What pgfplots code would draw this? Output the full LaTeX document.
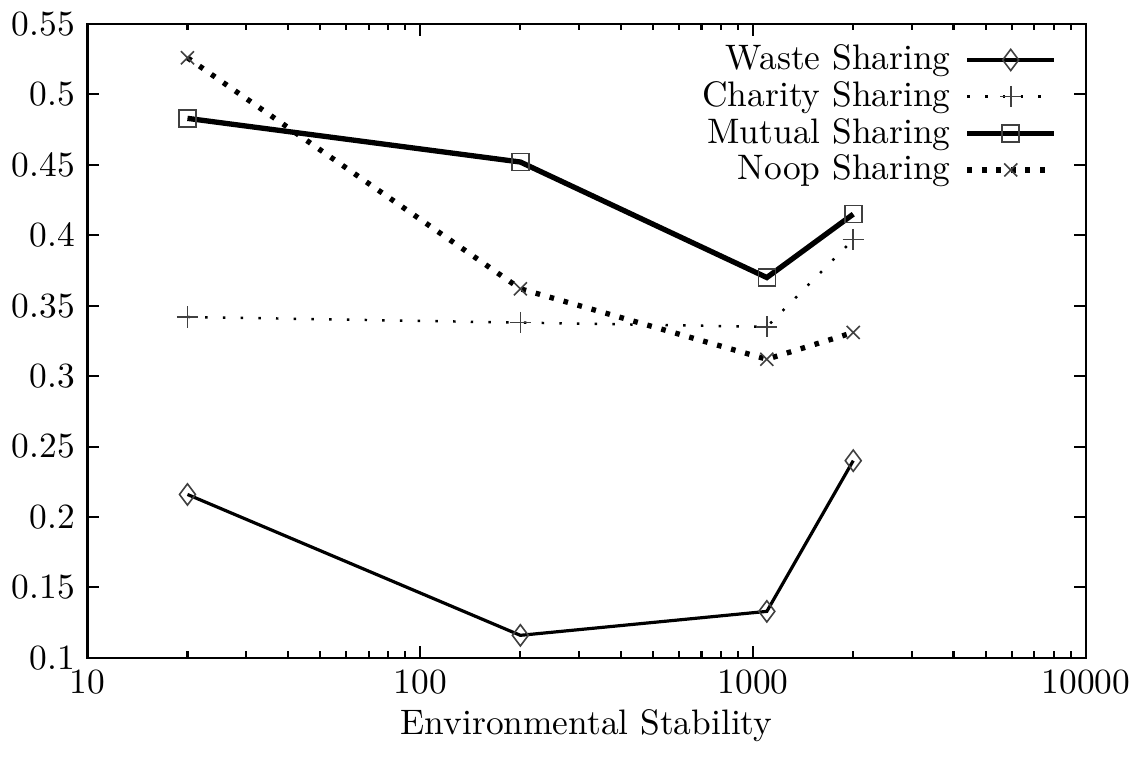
\documentclass[border=0pt]{standalone}
\usepackage{pgfplots}
\pgfplotsset{compat=1.18}
\begin{document}
\begin{tikzpicture}
\begin{axis}[
    scale only axis,
    width=282pt, height=179pt,
    xmode=log,
    xmin=10, xmax=10000,
    ymin=0.1, ymax=0.55,
    ytick={0.1,0.15,...,0.55},
    log ticks with fixed point,
    /pgf/number format/set thousands separator={},
    yticklabel style={/pgf/number format/fixed,/pgf/number format/precision=2},
    /pgf/number format/assume math mode=true,
    tick align=inside,
    major tick length=3.4pt,
    minor tick length=1.8pt,
    every tick/.style={black, line width=0.6pt},
    axis line style={line width=0.7pt},
    xlabel={Environmental Stability},
    xlabel style={yshift=7.4pt, inner ysep=8pt},
    legend plot pos=right,
    legend cell align=right,
    legend style={draw=none, fill=none, at={(0.975,0.985)}, anchor=north east,
                  row sep=-2.2pt, inner sep=1pt,
                  nodes={inner xsep=4pt}},
    legend image code/.code={\draw[mark repeat=2,mark phase=2]
        plot coordinates {(0cm,0cm) (0.43cm,0cm) (0.86cm,0cm)};},
]
\addplot[black, line width=0.9pt, mark=diamond, mark options={solid, draw=black!75, line width=0.45pt, mark size=3pt}]
coordinates {(20,0.216) (200,0.116) (1100,0.133) (2000,0.240)};
\addplot[black, line width=0.7pt, dash pattern=on 0.7pt off 4.3pt, mark=+, mark options={solid, draw=black!75, line width=0.45pt, mark size=3pt}]
coordinates {(20,0.342) (200,0.338) (1100,0.335) (2000,0.397)};
\addplot[black, line width=1.5pt, mark=square, mark options={solid, draw=black!75, line width=0.45pt, mark size=2.4pt}]
coordinates {(20,0.483) (200,0.452) (1100,0.370) (2000,0.415)};
\addplot[black, line width=1.5pt, dash pattern=on 1.3pt off 2.8pt, mark=x, mark options={solid, draw=black!75, line width=0.45pt, mark size=2.6pt}]
coordinates {(20,0.526) (200,0.362) (1100,0.312) (2000,0.331)};
\legend{Waste Sharing, Charity Sharing, Mutual Sharing, Noop Sharing}
\end{axis}
\end{tikzpicture}
\end{document}
